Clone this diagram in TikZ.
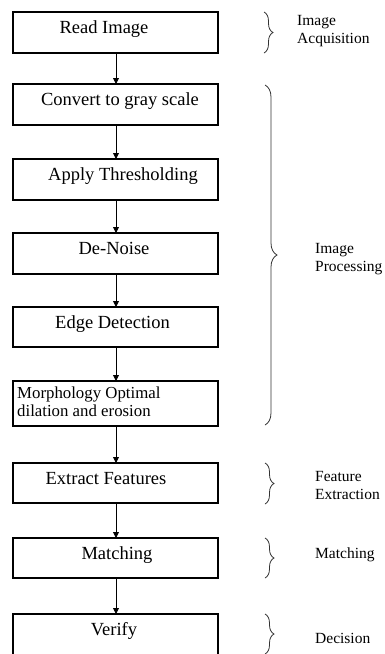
\documentclass[tikz,border=0pt]{standalone}
\usepackage{fontspec}
\setmainfont{Liberation Serif}
\usetikzlibrary{arrows.meta,decorations.pathreplacing}
\begin{document}
\begin{tikzpicture}[x=1pt,y=1pt,
  box/.style={draw=black, line width=1.2pt},
  boxtext/.style={anchor=base, inner sep=0pt, font=\fontsize{18.5}{20}\selectfont},
  lbl/.style={anchor=base west, inner sep=0pt, align=left, font=\fontsize{15.5}{18}\selectfont},
  flow/.style={-{Triangle[length=6pt,width=6pt]}, line width=0.9pt},
  brc/.style={decorate, decoration={brace, amplitude=9pt}, line width=0.8pt, draw=black!80}]
\clip (0,0) rectangle (384,-654);
\useasboundingbox (0,0) rectangle (384,-654);
% boxes
\draw[box] (13,-12) rectangle (218,-53);   \coordinate (b1t) at (116,-12); \coordinate (b1b) at (116,-53);
\draw[box] (13,-84) rectangle (218,-125);  \coordinate (b2t) at (116,-84); \coordinate (b2b) at (116,-125);
\draw[box] (13,-159) rectangle (218,-200); \coordinate (b3t) at (116,-159); \coordinate (b3b) at (116,-200);
\draw[box] (13,-233) rectangle (218,-274); \coordinate (b4t) at (116,-233); \coordinate (b4b) at (116,-274);
\draw[box] (13,-307) rectangle (218,-347); \coordinate (b5t) at (116,-307); \coordinate (b5b) at (116,-347);
\draw[box] (13,-381) rectangle (218,-426); \coordinate (b6t) at (116,-381); \coordinate (b6b) at (116,-426);
\draw[box] (13,-463) rectangle (218,-503); \coordinate (b7t) at (116,-463); \coordinate (b7b) at (116,-503);
\draw[box] (13,-538) rectangle (218,-578); \coordinate (b8t) at (116,-538); \coordinate (b8b) at (116,-578);
\draw[box] (13,-660) -- (13,-614) -- (218,-614) -- (218,-660); \coordinate (b9t) at (116,-614);
% texts
\node[boxtext] (t1) at (104,-33) {Read Image};
\node[boxtext] (t2) at (120,-105) {Convert to gray scale};
\node[boxtext] (t3) at (123,-180) {Apply Thresholding};
\node[boxtext] (t4) at (114,-254) {De-Noise};
\node[boxtext] (t5) at (112.5,-328) {Edge Detection};
\node[lbl, font=\fontsize{16.8}{18}\selectfont] (t6) at (17,-416) {Morphology Optimal\\dilation and erosion};
\node[boxtext] (t7) at (106,-484) {Extract Features};
\node[boxtext] (t8) at (117,-559) {Matching};
\node[boxtext] (t9) at (114,-635) {Verify};
% arrows
\draw[flow] (b1b) -- (b2t);
\draw[flow] (b2b) -- (b3t);
\draw[flow] (b3b) -- (b4t);
\draw[flow] (b4b) -- (b5t);
\draw[flow] (b5b) -- (b6t);
\draw[flow] (b6b) -- (b7t);
\draw[flow] (b7b) -- (b8t);
\draw[flow] (b8b) -- (b9t);
% braces
\draw[brc] (264,-12) -- (264,-53);
\draw[brc, decoration={brace, amplitude=12pt, aspect=0.5}] (265,-85) -- (265,-425);
\draw[brc] (265,-463) -- (265,-504);
\draw[brc] (265,-538) -- (265,-578);
\draw[brc] (265,-614) -- (265,-654);
% labels
\node[lbl] (l1) at (297,-43) {Image\\Acquisition};
\node[lbl] (l2) at (315,-271) {Image\\Processing};
\node[lbl] (l3) at (315,-499) {Feature\\Extraction};
\node[lbl] (l4) at (315,-558) {Matching};
\node[lbl] (l5) at (315,-643) {Decision};
\end{tikzpicture}
\end{document}
